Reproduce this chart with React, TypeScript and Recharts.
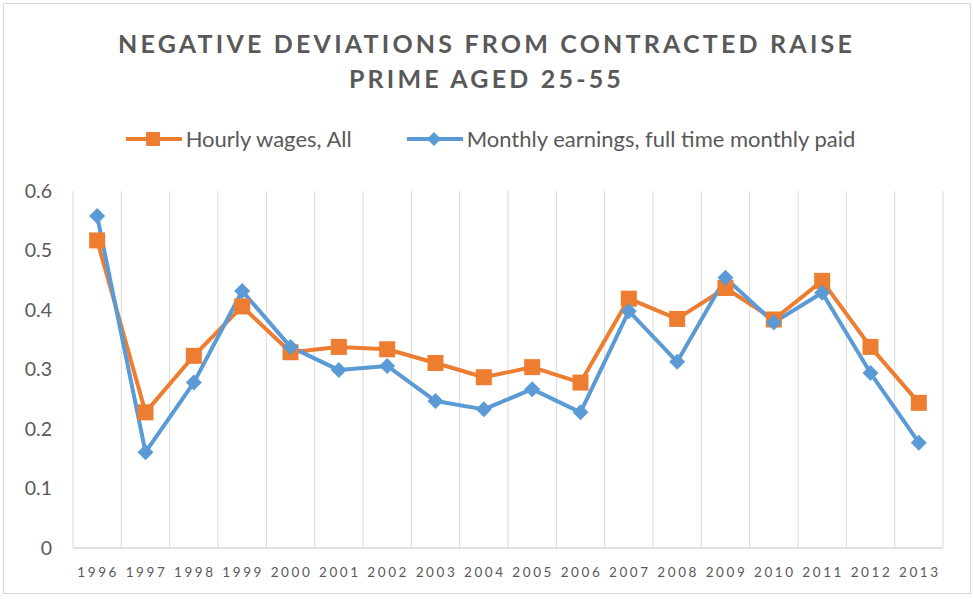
import React from "react";
import { LineChart, Line, XAxis, YAxis, CartesianGrid } from "recharts";

const years = ["1996","1997","1998","1999","2000","2001","2002","2003","2004","2005","2006","2007","2008","2009","2010","2011","2012","2013"];
const hourlyWages = [0.517,0.228,0.323,0.406,0.329,0.338,0.334,0.311,0.287,0.304,0.278,0.419,0.385,0.437,0.384,0.449,0.338,0.244];
const monthlyEarnings = [0.558,0.161,0.278,0.432,0.338,0.299,0.306,0.247,0.233,0.267,0.228,0.398,0.313,0.454,0.379,0.429,0.294,0.177];
const yTicks = [0, 0.1, 0.2, 0.3, 0.4, 0.5, 0.6];
const titleLines = ["NEGATIVE DEVIATIONS FROM CONTRACTED RAISE", "PRIME AGED 25-55"];
const seriesNames = ["Hourly wages, All", "Monthly earnings, full time monthly paid"];

const ORANGE = "#ED7D31";
const BLUE = "#5B9BD5";
const TEXT = "#595959";
const GRID = "#D9D9D9";
const FONT = "Lato, 'Open Sans', sans-serif";

const CHART_W = 973;
const CHART_H = 599;
const MARGIN = { top: 191, right: 30, bottom: 21, left: 13 };
const Y_AXIS_W = 60;
const PLOT_W = CHART_W - MARGIN.left - MARGIN.right - Y_AXIS_W;
const HALF_BAND = PLOT_W / years.length / 2;

const data = years.map((y, i) => ({ year: y, hourly: hourlyWages[i], monthly: monthlyEarnings[i] }));

const Square = (props: any) => {
  const { cx, cy } = props;
  if (cx == null || cy == null) return null;
  return <rect x={cx - 8} y={cy - 8} width={16} height={16} fill={ORANGE} />;
};

const Diamond = (props: any) => {
  const { cx, cy } = props;
  if (cx == null || cy == null) return null;
  const r = 8;
  return <polygon points={`${cx},${cy - r} ${cx + r},${cy} ${cx},${cy + r} ${cx - r},${cy}`} fill={BLUE} />;
};

const XTick = (props: any) => {
  const { x, y, payload } = props;
  return (
    <text x={x + 1} y={y} dy={23} textAnchor="middle" fontSize={13.5} fill={TEXT} fontFamily={FONT} letterSpacing={2.6}>
      {payload.value}
    </text>
  );
};

const YTick = (props: any) => {
  const { x, y, payload } = props;
  return (
    <text x={x} y={y} dy={6.5} textAnchor="end" fontSize={19.5} fill={TEXT} fontFamily={FONT}>
      {String(payload.value)}
    </text>
  );
};

const LegendIcon = ({ kind, color }: { kind: "square" | "diamond"; color: string }) => (
  <svg width={56} height={20} style={{ marginRight: 4 }}>
    <line x1={0} y1={10} x2={56} y2={10} stroke={color} strokeWidth={4} />
    {kind === "square" ? (
      <rect x={20} y={3} width={14} height={14} fill={color} />
    ) : (
      <polygon points="27,3 34,10 27,17 20,10" fill={color} />
    )}
  </svg>
);

export default function App() {
  return (
    <div style={{ position: "absolute", left: 0, top: 0, width: CHART_W, height: CHART_H, background: "#fff", fontFamily: FONT }}>
      <div style={{ position: "absolute", left: 3, top: 3, width: 966, height: 589, border: `1px solid ${GRID}` }} />
      <div
        style={{
          position: "absolute",
          left: 0,
          top: 26,
          width: CHART_W,
          textAlign: "center",
          fontWeight: 700,
          fontSize: 25,
          lineHeight: "35px",
          letterSpacing: 3.2,
          color: TEXT,
        }}
      >
        {titleLines.map((t) => (
          <div key={t}>{t}</div>
        ))}
      </div>
      <div
        style={{
          position: "absolute",
          left: 0,
          top: 125,
          width: CHART_W,
          display: "flex",
          justifyContent: "center",
          alignItems: "center",
          fontSize: 22,
          color: TEXT,
          gap: 55,
          paddingLeft: 8,
          boxSizing: "border-box",
        }}
      >
        <div style={{ display: "flex", alignItems: "center" }}>
          <LegendIcon kind="square" color={ORANGE} />
          <span>{seriesNames[0]}</span>
        </div>
        <div style={{ display: "flex", alignItems: "center" }}>
          <LegendIcon kind="diamond" color={BLUE} />
          <span>{seriesNames[1]}</span>
        </div>
      </div>
      <div style={{ position: "absolute", left: 0, top: 0 }}>
        <LineChart width={CHART_W} height={CHART_H} data={data} margin={MARGIN}>
          <CartesianGrid
            horizontal={false}
            stroke={GRID}
            strokeWidth={1}
            verticalCoordinatesGenerator={(p: any) => {
              const off = p.offset;
              const n = years.length;
              return Array.from({ length: n + 1 }, (_, i) => off.left + (i * off.width) / n);
            }}
          />
          <XAxis
            dataKey="year"
            height={30}
            tickLine={false}
            axisLine={{ stroke: GRID, strokeWidth: 1.5 }}
            tick={<XTick />}
            interval={0}
            tickSize={6}
            tickMargin={0}
            padding={{ left: HALF_BAND, right: HALF_BAND }}
          />
          <YAxis
            width={Y_AXIS_W}
            domain={[0, 0.6]}
            ticks={yTicks}
            axisLine={false}
            tickLine={false}
            tickSize={6}
            tickMargin={15}
            tick={<YTick />}
          />
          <Line
            dataKey="hourly"
            name={seriesNames[0]}
            stroke={ORANGE}
            strokeWidth={4}
            dot={<Square />}
            activeDot={false}
            isAnimationActive={false}
            strokeLinejoin="round"
          />
          <Line
            dataKey="monthly"
            name={seriesNames[1]}
            stroke={BLUE}
            strokeWidth={4}
            dot={<Diamond />}
            activeDot={false}
            isAnimationActive={false}
            strokeLinejoin="round"
          />
        </LineChart>
      </div>
    </div>
  );
}
